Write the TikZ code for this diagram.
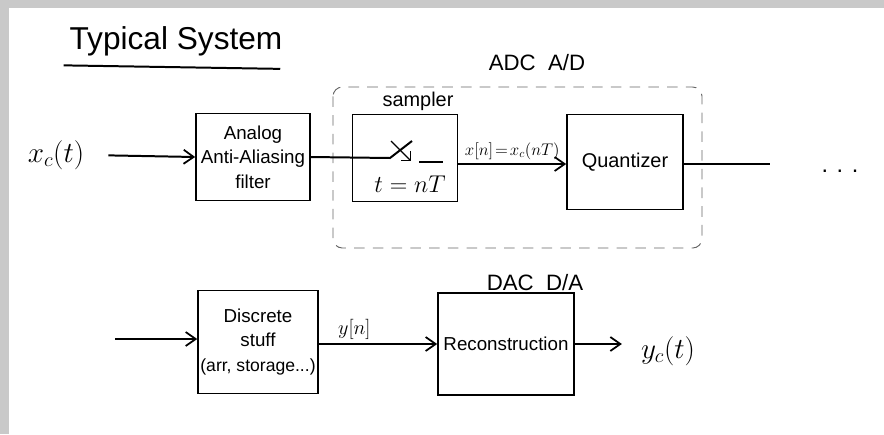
\documentclass[tikz,border=0pt]{standalone}
\usepackage{fontspec}
\setmainfont{Liberation Sans}
\usetikzlibrary{arrows.meta}

\tikzset{
  block/.style={draw, line width=1.4pt, align=center, inner sep=2pt,
    font=\fontsize{16}{21}\selectfont},
  wire/.style={line width=1.7pt},
  sig/.style={wire, -{Straight Barb[length=3mm, width=4.2mm, line width=1.5pt]}},
  tag/.style={inner sep=1pt, font=\fontsize{17}{20}\selectfont}
}

\begin{document}
\begin{tikzpicture}[x=0.03cm, y=-0.03cm]
        \useasboundingbox (0,0) rectangle (884,434);
        % Frame of the scan
        \fill[black!21] (0,0) rectangle (884,8);
        \fill[black!21] (0,0) rectangle (8.6,434);

        % Title
        \node[inner sep=0pt, font=\fontsize{27}{30}\selectfont] (title) at (176,41) {Typical System};
        \draw[wire] ([xshift=-5pt, yshift=-8pt]title.south west) -- ([xshift=-2pt, yshift=-11pt]title.south east);

        % ADC frame
        \draw[black!60, thick, dashed, dash pattern=on 9pt off 7pt, rounded corners=8pt] (333,87) rectangle (702,248);
        \node[tag, font=\fontsize{19}{22}\selectfont] (adc) at (537,63) {ADC\ \ A/D};

        % Upper row
        \node[font=\fontsize{24}{26}\selectfont] (xin) at (56,155) {$x_c(t)$};
        \node[block, minimum width=3.42cm, minimum height=2.61cm] (filter) at (253,157) {Analog\\Anti-Aliasing\\filter};
        \node[block, minimum width=3.15cm, minimum height=2.61cm] (sampler) at (405,158) {};
        \node[tag] (samptag) at (418,101) {sampler};
        \node[inner sep=0pt, font=\fontsize{21}{22}\selectfont] (tnt) at (410,184) {$t=nT$};
        \node[block, font=\fontsize{17}{21}\selectfont, minimum width=3.48cm, minimum height=2.85cm] (quant) at (625,162) {Quantizer};
        \node[font=\fontsize{20}{22}\selectfont] (dots) at (840,171) {. . .};
        \coordinate (swin) at (390,158);
        \coordinate (swtip) at (412,141);
        \coordinate (swa) at (391,141);
        \coordinate (swb) at (411,161);
        \coordinate (swo) at (419,162);
        \coordinate (swe) at (443,162);
        \coordinate (qout) at (770,164);

        \draw[sig, shorten <=0.6cm] (xin.east) -- (filter.west);
        \draw[wire] (filter.east) -- (swin) -- (swtip);
        \draw[line width=1.2pt, -{Straight Barb[length=2mm]}] (swa) -- (swb);
        \draw[line width=1.2pt] (swo) -- (swe);
        \draw[sig] (sampler.east |- qout) -- node[above, inner sep=3pt, font=\fontsize{14.5}{16}\selectfont] {$x[n]\!=\!x_c(nT)$} (quant.west |- qout);
        \draw[wire] (quant.east |- qout) -- (qout);

        % Lower row
        \coordinate (din) at (115,339);
        \node[block, minimum width=3.48cm, minimum height=3.09cm] (disc) at (258,342) {Discrete\\stuff\\{\fontsize{15}{20}\selectfont (arr, storage...)}};
        \node[block, minimum width=4.08cm, minimum height=3.06cm] (recon) at (506,344) {Reconstruction};
        \node[tag, font=\fontsize{19}{22}\selectfont] (dac) at (535,283) {DAC\ \ D/A};
        \node[font=\fontsize{24}{26}\selectfont] (yout) at (668,351) {$y_c(t)$};

        \draw[sig] (din) -- (disc.west |- din);
        \draw[sig] (disc.east |- recon.west) -- node[pos=0.3, above, font=\fontsize{17}{18}\selectfont] {$y[n]$} (recon.west);
        \draw[sig, line width=2.2pt, shorten >=0.45cm] (recon.east) -- (recon.east -| yout.west);
\end{tikzpicture}
\end{document}
